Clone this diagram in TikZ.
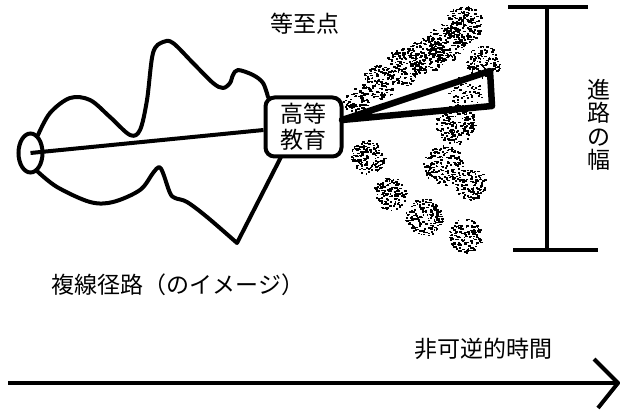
\documentclass[tikz,border=0pt]{standalone}
\usepackage{fontspec}
\setmainfont{Noto Sans CJK JP}
\usetikzlibrary{shapes.geometric}
\newcommand\myblob[4]{%
  \foreach \k in {1,...,#4}{%
    \pgfmathsetmacro\rr{#3*sqrt(rnd)}%
    \pgfmathsetmacro\aa{360*rnd}%
    \pgfmathsetmacro\ww{1.4+1.6*rnd}%
    \fill ({#1+\rr*cos(\aa)},{#2+\rr*sin(\aa)}) rectangle ++(\ww,1.6);
  }}
\begin{document}
\begin{tikzpicture}[x=1pt,y=-1pt,
  curve/.style={line width=4pt,line join=round,line cap=round},
  thick3/.style={line width=4pt},
  wedge/.style={line width=6.5pt,line join=round,line cap=round},
  lbl/.style={inner sep=0pt,font=\fontsize{23}{26}\selectfont}]
\useasboundingbox (0,0) rectangle (620,411);
\pgfmathsetseed{7}
% ellipse start
\node[draw,ellipse,line width=4pt,minimum width=24pt,minimum height=39pt,inner sep=0pt] (e) at (30.5,153) {};
% box
\node[draw,rounded corners=9pt,line width=4pt,minimum width=76pt,minimum height=59pt,inner sep=0pt,align=center,
      font=\fontsize{23}{26}\selectfont] (b) at (303.5,127) {高等\\教育};
% connector
\draw[thick3] (e.center) -- ([yshift=-3pt]b.west);
% upper wavy path
\draw[curve] plot[smooth,tension=0.55] coordinates {(38,135) (50,113) (70,98) (90,100) (110,117) (130,135) (140,130) (147,100) (153,53) (163,42) (173,43) (193,63) (213,83) (223,88) (230,83) (233,75) (238,70) (253,75) (263,83) (268,97)};
% lower path
\draw[curve] plot[smooth,tension=0.55] coordinates {(37,171) (57,187) (90,202) (113,202) (140,190) (153,173) (159,167) (163,173) (170,193) (175,198) (187,202) (207,217) (237,243)} -- (281,157);
% blobs
\myblob{463}{24}{19}{170}
\myblob{445}{42}{19}{170}
\myblob{425}{55}{19}{160}
\myblob{403}{66}{19}{160}
\myblob{378}{82}{17}{130}
\myblob{356}{101}{13}{80}
\myblob{483}{62}{17}{130}
\myblob{465}{92}{17}{70}
\myblob{455}{124}{20}{180}
\myblob{367}{157}{17}{150}
\myblob{443}{165}{20}{190}
\myblob{470}{184}{16}{120}
\myblob{390}{193}{17}{140}
\myblob{423}{217}{19}{170}
\myblob{465}{235}{17}{140}
% wedge
\coordinate (w0) at (342,120);
\coordinate (w1) at (490,71);
\coordinate (w2) at (492,106);
\draw[wedge] (w1) -- (w0) -- (w2) -- cycle;
% width bar
\coordinate (v0) at (547,8);
\coordinate (v1) at (547,250);
\draw[thick3] (v0) -- (v1);
\draw[thick3] (508,7) -- (588,7);
\draw[thick3] (513,250) -- (598,250);
% time arrow
\coordinate (t0) at (8,383);
\coordinate (t1) at (618,383);
\draw[thick3] (t0) -- (t1);
\draw[thick3,line join=miter] (594,359) -- (t1) -- (598,408);
% labels
\node[lbl] (l1) at (305,24) {等至点};
\node[lbl,align=center,font=\fontsize{23}{23.5}\selectfont] (l2) at (599,125) {進\\路\\の\\幅};
\node[lbl] (l3) at (178,285) {複線径路（のイメージ）};
\node[lbl] (l4) at (483,349) {非可逆的時間};
\end{tikzpicture}
\end{document}
